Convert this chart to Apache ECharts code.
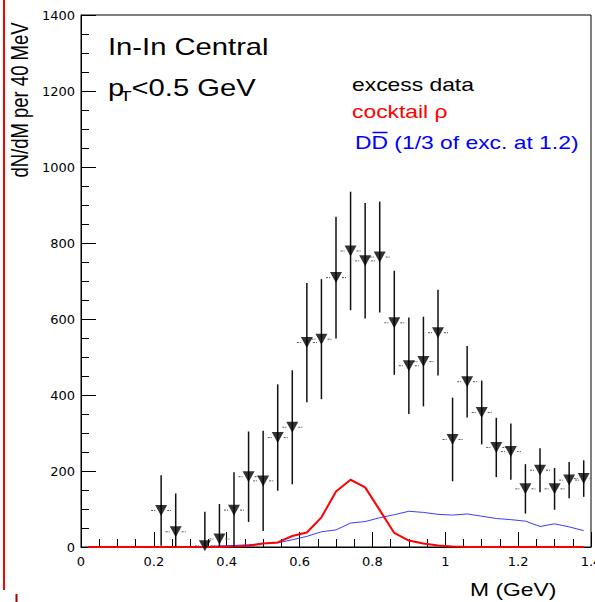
<!DOCTYPE html>
<html>
<head>
<meta charset="utf-8">
<script src="https://cdn.jsdelivr.net/npm/echarts@6/dist/echarts.min.js"></script>
<style>
  html, body { margin: 0; padding: 0; background: #fff; }
  #chart { width: 595px; height: 602px; }
</style>
</head>
<body>
<div id="chart"></div>
<script>
// Excess dimuon data points (bin centres in GeV), yields and errors
const mass = [0.22, 0.26, 0.34, 0.38, 0.42, 0.46, 0.50, 0.54, 0.58, 0.62, 0.66, 0.70, 0.74, 0.78, 0.82,
              0.86, 0.90, 0.94, 0.98, 1.02, 1.06, 1.10, 1.14, 1.18, 1.22, 1.26, 1.30, 1.34, 1.38];
const excess = [96, 40, 3, 21, 97, 185, 174, 288, 315, 538, 547, 709, 779, 753, 763,
                590, 477, 488, 564, 283, 435, 354, 262, 251, 153, 202, 153, 176, 180];
const excessErr = [93, 101, 90, 92, 100, 119, 132, 140, 150, 157, 158, 160, 156, 152, 146,
                   137, 127, 118, 113, 110, 94, 84, 78, 74, 65, 58, 55, 48, 48];

// Curves, 40 MeV bins
const curveMass = [0.02, 0.06, 0.10, 0.14, 0.18, 0.22, 0.26, 0.30, 0.34, 0.38, 0.42, 0.46, 0.50, 0.54,
                   0.58, 0.62, 0.66, 0.70, 0.74, 0.78, 0.82, 0.86, 0.90, 0.94, 0.98, 1.02, 1.06, 1.10,
                   1.14, 1.18, 1.22, 1.26, 1.30, 1.34, 1.38];
const cocktailRho = [0, 0, 0, 0, 0, 0, 0, 0, 0, 0, 1, 3, 9, 12,
                     29, 38, 78, 146, 177, 157, 97, 37, 17, 9, 4, 1, 0, 0,
                     0, 0, 0, 0, 0, 0, 0];
const ddbar = [0, 0, 0, 0, 0, 0, 0, 0, 1, 3, 4, 6, 9, 11,
               19, 28, 40, 45, 63, 67, 77, 85, 94, 91, 86, 84, 87, 81,
               75, 72, 68, 54, 61, 53, 43];

// Axis ranges
const xRange = [0, 1.4];
const yRange = [0, 1400];

const zip = (xs, ys) => xs.map((x, i) => [x, ys[i]]);
const pointData = mass.map((m, i) => [m, excess[i], excessErr[i]]);

const chart = echarts.init(document.getElementById('chart'), null, { renderer: 'svg' });

const labelFont = { fontFamily: 'DejaVu Sans', fontSize: 13, color: '#000' };
const textFont = 'Liberation Sans, Arial, sans-serif';
const STRETCH = 1.27;

function errorBar(params, api) {
  const x = api.value(0), y = api.value(1), e = api.value(2);
  const top = api.coord([x, Math.min(y + e, yRange[1])]);
  const bot = api.coord([x, Math.max(y - e, yRange[0])]);
  const c = api.coord([x, y]);
  const dash = { stroke: '#555', lineWidth: 1, lineDash: [2, 1] };
  return {
    type: 'group',
    children: [
      { type: 'line', shape: { x1: top[0], y1: top[1], x2: bot[0], y2: bot[1] },
        style: { stroke: '#111', lineWidth: 1.5 } },
      { type: 'line', shape: { x1: c[0] - 10, y1: c[1], x2: c[0] - 6, y2: c[1] }, style: dash },
      { type: 'line', shape: { x1: c[0] + 6, y1: c[1], x2: c[0] + 10, y2: c[1] }, style: dash }
    ]
  };
}

function stretchedText(x, y, text, size, color, extra) {
  return Object.assign({
    type: 'text', x: x, y: y, scaleX: STRETCH, z: 10,
    style: { text: text, fontFamily: textFont, fontSize: size, fill: color,
             align: 'left', verticalAlign: 'middle' }
  }, extra || {});
}

chart.setOption({
  animation: false,
  backgroundColor: '#fff',
  grid: {
    left: 81, right: 4, top: 15, bottom: 55, show: true, borderColor: '#000', borderWidth: 1,
    containLabel: false, outerBoundsMode: 'none'
  },
  xAxis: {
    type: 'value', min: xRange[0], max: xRange[1], interval: 0.2,
    axisLine: { lineStyle: { color: '#000', width: 1 } },
    axisTick: { inside: true, length: 15, lineStyle: { color: '#000' } },
    minorTick: { show: true, splitNumber: 4, length: 8, lineStyle: { color: '#000' } },
    splitLine: { show: false },
    axisLabel: Object.assign({ margin: 8, showMaxLabel: true, hideOverlap: false,
                               formatter: v => String(Math.round(v * 10) / 10) }, labelFont)
  },
  yAxis: {
    type: 'value', min: yRange[0], max: yRange[1], interval: 200,
    axisLine: { show: true, lineStyle: { color: '#000', width: 1 } },
    axisTick: { show: true, inside: true, length: 15, lineStyle: { color: '#000' } },
    minorTick: { show: true, splitNumber: 4, length: 8, lineStyle: { color: '#000' } },
    splitLine: { show: false },
    axisLabel: Object.assign({ margin: 6, formatter: v => String(v) }, labelFont)
  },
  series: [
    {
      name: 'DDbar', type: 'line', data: zip(curveMass, ddbar), showSymbol: false,
      lineStyle: { color: '#3b3bff', width: 1 }, z: 2
    },
    {
      name: 'cocktail rho', type: 'line', data: zip(curveMass, cocktailRho), showSymbol: false,
      lineStyle: { color: '#ff0000', width: 2 }, z: 3
    },
    {
      name: 'excess errors', type: 'custom', renderItem: errorBar, data: pointData,
      clip: true, z: 4, encode: { x: 0, y: 1 }
    },
    {
      name: 'excess data', type: 'scatter', data: pointData.map(p => [p[0], p[1]]),
      symbol: 'triangle', symbolRotate: 180, symbolSize: [12, 11],
      itemStyle: { color: '#000' }, z: 5
    }
  ],
  graphic: [
    // page margin rules
    { type: 'line', shape: { x1: 4, y1: 0, x2: 4, y2: 590 }, style: { stroke: '#ff0000', lineWidth: 2 } },
    { type: 'line', shape: { x1: 16.5, y1: 594, x2: 16.5, y2: 602 }, style: { stroke: '#a00000', lineWidth: 2 } },
    // title block
    stretchedText(108, 47.5, 'In-In Central', 23, '#000'),
    stretchedText(108, 88.5, 'p', 23, '#000'),
    stretchedText(120, 96, 'T', 15, '#000'),
    stretchedText(131.5, 88.5, '<0.5 GeV', 23, '#000'),
    // legend
    stretchedText(352, 84, 'excess data', 18, '#000'),
    stretchedText(352, 111, 'cocktail \u03c1', 18, '#ff0000'),
    stretchedText(355, 142.5, 'DD (1/3 of exc. at 1.2)', 18, '#0000ff'),
    { type: 'line', shape: { x1: 372.5, y1: 132.5, x2: 387.5, y2: 132.5 }, style: { stroke: '#0000ff', lineWidth: 1.5 }, z: 10 },
    // axis titles
    stretchedText(470, 589, 'M (GeV)', 18, '#000'),
    {
      type: 'text', x: 20, y: 100, rotation: Math.PI / 2, scaleY: STRETCH, z: 10,
      style: { text: 'dN/dM per 40 MeV', fontFamily: textFont, fontSize: 18.5, fill: '#000',
               align: 'center', verticalAlign: 'middle' }
    }
  ]
});
</script>
</body>
</html>
